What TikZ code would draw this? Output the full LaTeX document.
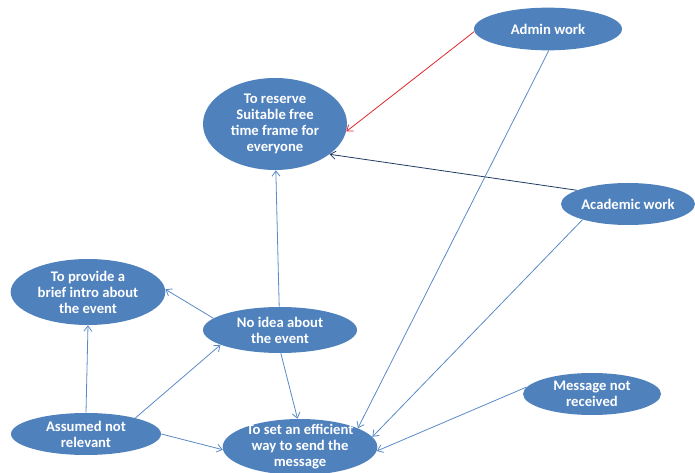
\documentclass[tikz,border=0pt]{standalone}
\usepackage{fontspec}
\setmainfont{Carlito}
\usetikzlibrary{shapes.geometric,arrows.meta}
\definecolor{boxblue}{HTML}{4F81BD}
\definecolor{linkblue}{HTML}{5A8AC6}
\definecolor{linkred}{HTML}{E0262B}
\definecolor{linknavy}{HTML}{1F3B63}

\begin{document}
\begin{tikzpicture}[x=0.75pt, y=-0.75pt,
    bubble/.style ={ellipse, fill=boxblue, inner sep=0pt},
    caption/.style ={text=white, font=\fontsize{11}{12}\selectfont\bfseries, align=center, inner sep=0pt},
    link/.style ={draw=linkblue, line width=0.6pt, -{Straight Barb[length=4pt,width=6pt]}}]
   \useasboundingbox (0,0) rectangle (695,473);
   \node[bubble, minimum width=111pt, minimum height=32pt,
         label={[caption]center:Admin work}] (admin) at (548,29) {};
   \node[bubble, minimum width=108pt, minimum height=69pt,
         label={[caption]center:{To reserve\\Suitable free\\time frame for\\everyone}}] (reserve) at (275,124) {};
   \node[bubble, minimum width=100.5pt, minimum height=31.5pt,
         label={[caption]center:Academic work}] (academic) at (628,204) {};
   \node[bubble, minimum width=116pt, minimum height=49.5pt,
         label={[caption]center:{To provide a\\brief intro about\\the event}}] (provide) at (88,292) {};
   \node[bubble, minimum width=115.5pt, minimum height=34.5pt,
         label={[caption]center:{No idea about\\the event}}] (noidea) at (280,330) {};
   \node[bubble, minimum width=112.5pt, minimum height=31.5pt,
         label={[caption]center:{Assumed not\\relevant}}] (assumed) at (86,434) {};
   \node[bubble, minimum width=116pt, minimum height=42pt,
         label={[caption]center:{To set an efficient\\way to send the\\message}}] (toset) at (300,447) {};
   \node[bubble, minimum width=103.5pt, minimum height=31.5pt,
         label={[caption]center:{Message not\\received}}] (message) at (592,394) {};
   % links
   \draw[link, draw=linkred] (admin.182) -- (reserve.-6);
   \draw[link, draw=linknavy] (academic.165) -- (reserve.-29);
   \draw[link] (noidea.92) -- (reserve.-89);
   \draw[link] (noidea.170) -- (provide.2);
   \draw[link] (assumed.north) -- (provide.south);
   \draw[link] (assumed.18) -- (noidea.194);
   \draw[link] (assumed.0) -- (toset.182);
   \draw[link] (noidea.-88) -- (toset.95);
   \draw[link] (admin.-88) -- (toset.18);
   \draw[link] (academic.199) -- (toset.8);
   \draw[link] (message.174) -- (toset.-3);
\end{tikzpicture}
\end{document}
